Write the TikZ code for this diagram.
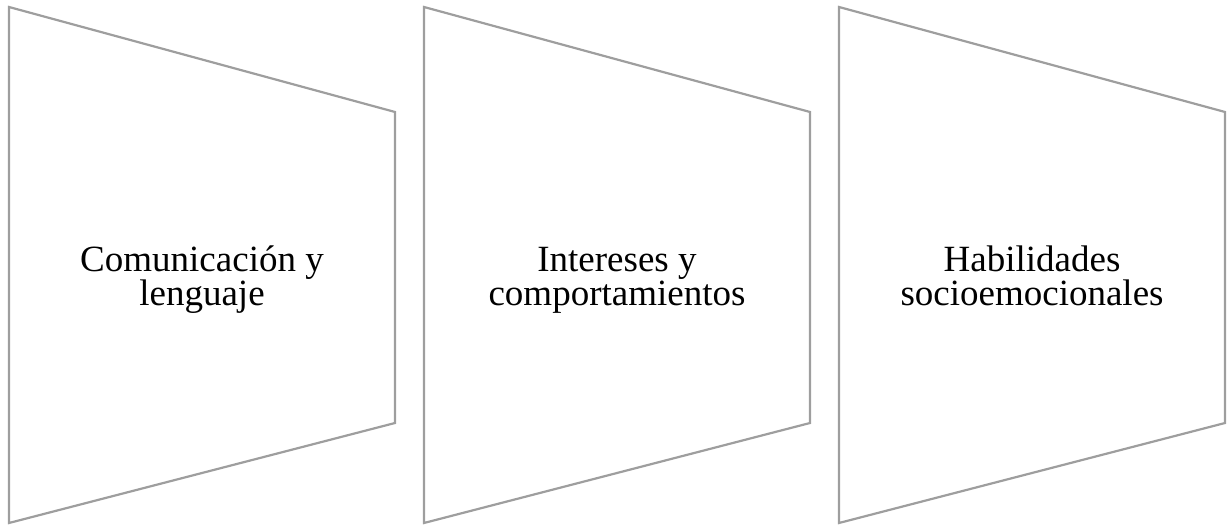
\documentclass[tikz,border=0pt]{standalone}
\usepackage{fontspec}
\setmainfont{Liberation Serif}
\usepackage{tikz}
\newcommand{\topstrut}{\vphantom{Ó}}
\newcommand{\botstrut}{\vphantom{j}}

\begin{document}
\begin{tikzpicture}[x=1pt,y=1pt]
                \tikzset{panel/.style = {draw={rgb,255:red,158;green,158;blue,158},line width=2.2pt,line join=miter}}
                \tikzset{label/.style = {align=center,inner sep=0pt,font=\fontsize{37}{34}\selectfont}}
                \useasboundingbox (0,0) rectangle (1230,526);
                
                \draw[panel] (9,519) -- (395,414) -- (395,103) -- (9,3) -- cycle;
                \draw[panel] (424,519) -- (810,414) -- (810,103) -- (424,3) -- cycle;
                \draw[panel] (839,519) -- (1225,414) -- (1225,103) -- (839,3) -- cycle;
                
                \node[label] (comm) at (202,249) {\topstrut Comunicación y\\lenguaje\botstrut};
                \node[label] (inte) at (617,249) {\topstrut Intereses y\\comportamientos\botstrut};
                \node[label] (habi) at (1032,249) {\topstrut Habilidades\\socioemocionales\botstrut};
                
        \end{tikzpicture}
\end{document}
